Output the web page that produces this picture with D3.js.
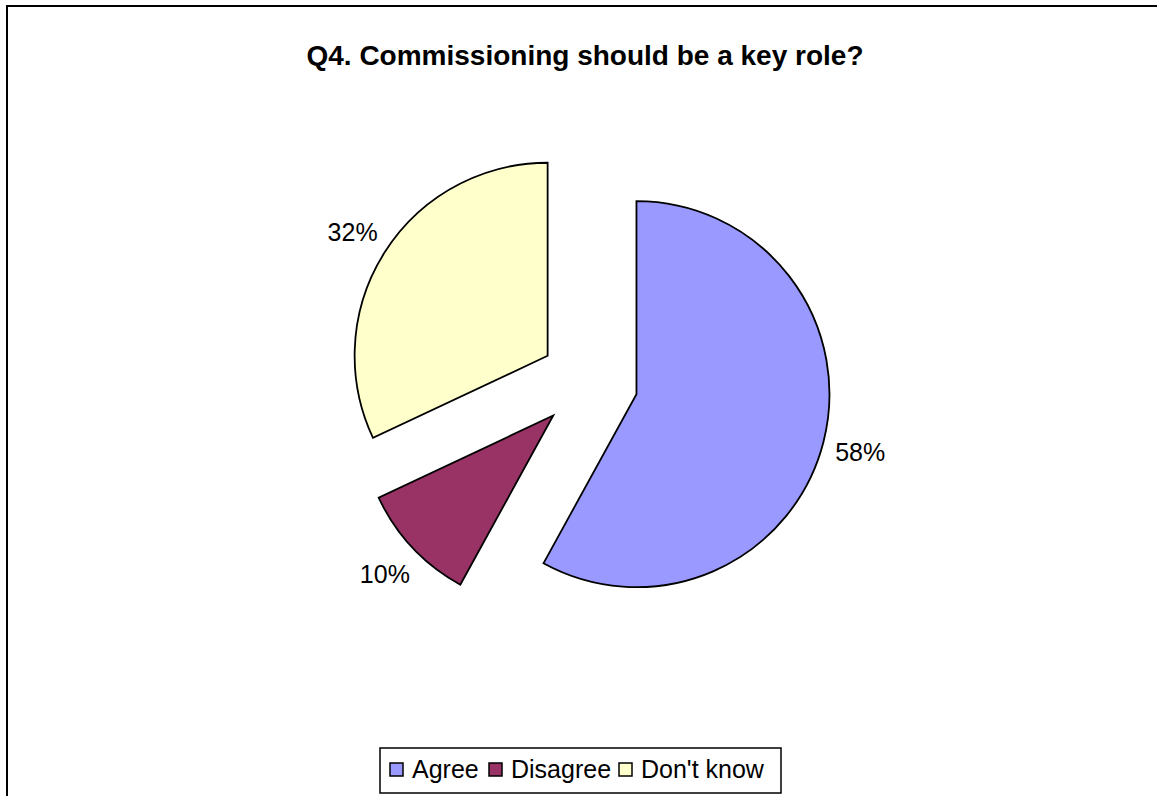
<!DOCTYPE html>
<html>
<head>
<meta charset="utf-8">
<script src="https://cdn.jsdelivr.net/npm/d3@7"></script>
<style>
  body { margin: 0; background: #fff; }
  svg { display: block; font-family: 'Liberation Sans', Arial, sans-serif; }
</style>
</head>
<body>
<div id="vis"></div>
<script>
'use strict';

// Chart data
const categories = ['Agree', 'Disagree', "Don't know"];
const shares = [58, 10, 32];
const labels = ['58%', '10%', '32%'];
const colors = ['#9999ff', '#993366', '#ffffcc'];

const width = 1157;
const height = 796;

// pie geometry
const center = { x: 589, y: 382 };
const radius = 193;
const explode = 49;

const svg = d3.select('#vis')
  .append('svg')
  .attr('width', width)
  .attr('height', height);

// outer frame (right and bottom edges fall outside the picture)
svg.append('rect')
  .attr('x', 7)
  .attr('y', 6)
  .attr('width', width)
  .attr('height', height)
  .attr('fill', 'none')
  .attr('stroke', '#000')
  .attr('stroke-width', 2);

svg.append('text')
  .attr('x', 585)
  .attr('y', 65)
  .attr('text-anchor', 'middle')
  .style('font-weight', 'bold')
  .style('font-size', '28px')
  .text('Q4. Commissioning should be a key role?');

const pie = d3.pie().sort(null).value(d => d);
const arcs = pie(shares);

const arc = d3.arc().innerRadius(0).outerRadius(radius);
const labelArc = d3.arc().innerRadius(radius + 38).outerRadius(radius + 38);

const slices = svg.append('g')
  .attr('transform', `translate(${center.x},${center.y})`)
  .selectAll('g')
  .data(arcs)
  .enter()
  .append('g')
  .attr('transform', function (d) {
    const mid = (d.startAngle + d.endAngle) / 2;
    return `translate(${Math.sin(mid) * explode},${-Math.cos(mid) * explode})`;
  });

slices.append('path')
  .attr('d', arc)
  .attr('fill', (d, i) => colors[i])
  .attr('stroke', '#000')
  .attr('stroke-width', 1.8);

slices.append('text')
  .attr('transform', d => `translate(${labelArc.centroid(d)})`)
  .attr('text-anchor', 'middle')
  .attr('dominant-baseline', 'central')
  .style('font-size', '25px')
  .text((d, i) => labels[i]);

// legend
const legend = svg.append('g');
legend.append('rect')
  .attr('x', 380)
  .attr('y', 748)
  .attr('width', 401)
  .attr('height', 45)
  .attr('fill', '#fff')
  .attr('stroke', '#000')
  .attr('stroke-width', 1.5);

const legendX = [390, 489, 619];
const items = legend.selectAll('g.item')
  .data(categories)
  .enter()
  .append('g')
  .attr('class', 'item')
  .attr('transform', (d, i) => `translate(${legendX[i]},769)`);

items.append('rect')
  .attr('x', 0)
  .attr('y', -6)
  .attr('width', 13)
  .attr('height', 13)
  .attr('fill', (d, i) => colors[i])
  .attr('stroke', '#000')
  .attr('stroke-width', 1.5);

items.append('text')
  .attr('x', 22)
  .attr('y', 0)
  .attr('dominant-baseline', 'central')
  .style('font-size', '25px')
  .text(d => d);
</script>
</body>
</html>
